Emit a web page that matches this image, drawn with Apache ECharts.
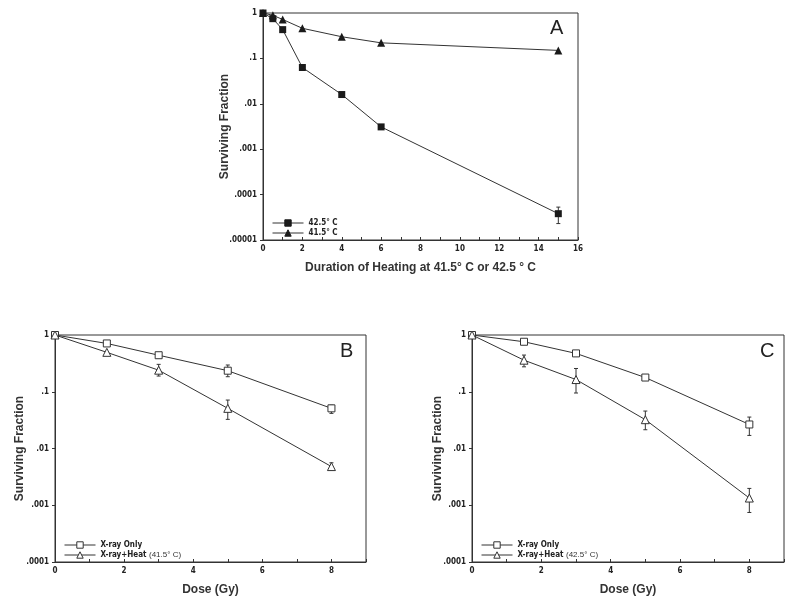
<!DOCTYPE html>
<html><head><meta charset="utf-8">
<script src="https://cdn.jsdelivr.net/npm/echarts@6/dist/echarts.min.js"></script>
<style>html,body{margin:0;padding:0;background:#fff}#c{width:800px;height:606px}</style>
</head><body><div id="c"></div>
<script>
// ---- data ----
const timeA = [0, 0.5, 1, 2, 4, 6, 15];
const sf425 = [1, 0.75, 0.43, 0.063, 0.016, 0.0031, 0.000038];
const sf415 = [1, 0.89, 0.72, 0.46, 0.30, 0.22, 0.15];
const errA425 = [[15, 0.000023, 0.000053]];

const doseB = [0, 1.5, 3, 5, 8];
const xrayB = [1, 0.71, 0.44, 0.235, 0.051];
const heatB = [1, 0.495, 0.24, 0.051, 0.0048];
const errXrayB = [[5, 0.184, 0.296], [8, 0.0416, 0.058]];
const errHeatB = [[3, 0.189, 0.304], [5, 0.0326, 0.0714], [8, 0.0042, 0.0056]];

const doseC = [0, 1.5, 3, 5, 8];
const xrayC = [1, 0.76, 0.474, 0.178, 0.0265];
const heatC = [1, 0.36, 0.164, 0.0322, 0.00134];
const errXrayC = [[5, 0.162, 0.195], [8, 0.017, 0.0358]];
const errHeatC = [[1.5, 0.275, 0.443], [3, 0.095, 0.257], [5, 0.0214, 0.0457], [8, 0.000746, 0.00198]];

const yTickLabels = ['1', '.1', '.01', '.001', '.0001', '.00001']; // exponents 0..-5
const xLabelsA = ['0', '2', '4', '6', '8', '10', '12', '14', '16'];
const xLabelsBC = ['0', '2', '4', '6', '8'];
const namesA = ['42.5° C', '41.5° C'];
const namesB = ['X-ray Only', 'X-ray+Heat (41.5° C)'];
const namesC = ['X-ray Only ', 'X-ray+Heat (42.5° C)'];

// ---- styles ----
const INK = '#333';
const narrow = '"Liberation Sans Narrow","DejaVu Sans Condensed","Arial Narrow",sans-serif';
const sans = '"Liberation Sans",Arial,sans-serif';

function zip(xs, ys) { return xs.map((x, i) => [x, ys[i]]); }
function yFmt(v) { const e = Math.round(-Math.log10(v)); return yTickLabels[e] ?? ''; }

function errRender(params, api) {
  const x = api.value(0), lo = api.value(1), hi = api.value(2);
  const p1 = api.coord([x, hi]), p2 = api.coord([x, lo]);
  const w = 2;
  const st = { stroke: INK, lineWidth: 1 };
  return { type: 'group', children: [
    { type: 'line', shape: { x1: p1[0], y1: p1[1], x2: p2[0], y2: p2[1] }, style: st },
    { type: 'line', shape: { x1: p1[0] - w, y1: p1[1], x2: p1[0] + w, y2: p1[1] }, style: st },
    { type: 'line', shape: { x1: p2[0] - w, y1: p2[1], x2: p2[0] + w, y2: p2[1] }, style: st }
  ]};
}

function xAxis(gi, max, name, labels) {
  return {
    type: 'value', gridIndex: gi, min: 0, max: max, interval: 2,
    name: name, nameLocation: 'middle', nameGap: 22, nameMoveOverlap: false,
    nameTextStyle: { fontFamily: sans, fontWeight: 'bold', fontSize: 12, color: INK },
    axisLine: { lineStyle: { color: INK, width: 1 } },
    axisTick: { inside: true, length: 3, lineStyle: { color: INK } },
    minorTick: { show: true, splitNumber: 2, length: 3, lineStyle: { color: INK } },
    splitLine: { show: false },
    axisLabel: { fontFamily: narrow, fontWeight: 'bold', fontSize: 8, color: '#222', margin: 5,
      formatter: v => labels[Math.round(v / 2)] ?? '' }
  };
}
function yAxis(gi, min, gap) {
  return {
    type: 'log', logBase: 10, gridIndex: gi, min: min, max: 1, interval: 1,
    name: 'Surviving Fraction', nameLocation: 'middle', nameGap: gap, nameMoveOverlap: false,
    nameTextStyle: { fontFamily: sans, fontWeight: 'bold', fontSize: 12, color: INK },
    axisLine: { lineStyle: { color: INK, width: 1 } },
    axisTick: { inside: false, length: 3, lineStyle: { color: INK } },
    minorTick: { show: false },
    splitLine: { show: false },
    axisLabel: { fontFamily: narrow, fontWeight: 'bold', fontSize: 8, color: '#222', margin: 6, formatter: yFmt }
  };
}
function lineSeries(name, gi, data, symbol, filled) {
  return {
    type: 'line', name: name, xAxisIndex: gi, yAxisIndex: gi, data: data,
    symbol: symbol, symbolSize: symbol === 'triangle' ? 8 : 7, z: 3,
    lineStyle: { color: INK, width: 1 },
    itemStyle: filled ? { color: '#1a1a1a', borderColor: '#1a1a1a', borderWidth: 0 }
                      : { color: '#fff', borderColor: INK, borderWidth: 1 },
    animation: false
  };
}
function errSeries(gi, data) {
  return { type: 'custom', xAxisIndex: gi, yAxisIndex: gi, data: data, renderItem: errRender,
    encode: { x: 0, y: [1, 2] }, z: 2, animation: false, silent: true };
}
function legend(names, left, top) {
  return {
    data: names, left: left, top: top, orient: 'vertical',
    itemWidth: 31, itemHeight: 8, itemGap: 2, selectedMode: false,
    lineStyle: { width: 1, color: INK },
    itemStyle: { borderWidth: 1 },
    textStyle: { fontFamily: narrow, fontWeight: 'bold', fontSize: 8, color: '#222', lineHeight: 8,
      rich: { b: { fontFamily: narrow, fontWeight: 'bold', fontSize: 8, color: '#222' },
              r: { fontFamily: sans, fontWeight: 'normal', fontSize: 8, color: '#333' } } },
    formatter: n => {
      const m = n.trim().match(/^(X-ray\+Heat) (\(.*\))$/);
      return m ? '{b|' + m[1] + '} {r|' + m[2] + '}' : n.trim();
    }
  };
}

const chart = echarts.init(document.getElementById('c'), null, { renderer: 'canvas' });
chart.setOption({
  backgroundColor: '#fff',
  animation: false,
  grid: [
    { left: 263, top: 13, width: 315, height: 227, show: true, borderColor: INK, borderWidth: 1, containLabel: false },
    { left: 55, top: 335, width: 311, height: 227, show: true, borderColor: INK, borderWidth: 1, containLabel: false },
    { left: 472, top: 335, width: 312, height: 227, show: true, borderColor: INK, borderWidth: 1, containLabel: false }
  ],
  xAxis: [
    xAxis(0, 16, 'Duration of Heating at 41.5° C or 42.5 ° C', xLabelsA),
    xAxis(1, 9, 'Dose (Gy)', xLabelsBC),
    xAxis(2, 9, 'Dose (Gy)', xLabelsBC)
  ],
  yAxis: [yAxis(0, 0.00001, 32), yAxis(1, 0.0001, 29), yAxis(2, 0.0001, 28)],
  legend: [legend(namesA, 267, 214), legend(namesB, 59, 536), legend(namesC, 476, 536)],
  series: [
    errSeries(0, errA425),
    lineSeries(namesA[0], 0, zip(timeA, sf425), 'rect', true),
    lineSeries(namesA[1], 0, zip(timeA, sf415), 'triangle', true),
    errSeries(1, errXrayB), errSeries(1, errHeatB),
    lineSeries(namesB[0], 1, zip(doseB, xrayB), 'rect', false),
    lineSeries(namesB[1], 1, zip(doseB, heatB), 'triangle', false),
    errSeries(2, errXrayC), errSeries(2, errHeatC),
    lineSeries(namesC[0], 2, zip(doseC, xrayC), 'rect', false),
    lineSeries(namesC[1], 2, zip(doseC, heatC), 'triangle', false)
  ],
  graphic: [
    { type: 'text', left: 550, top: 18, style: { text: 'A', font: '20px ' + sans, fill: '#222' } },
    { type: 'text', left: 340, top: 341, style: { text: 'B', font: '20px ' + sans, fill: '#222' } },
    { type: 'text', left: 760, top: 341, style: { text: 'C', font: '20px ' + sans, fill: '#222' } }
  ]
});
</script>
</body></html>
